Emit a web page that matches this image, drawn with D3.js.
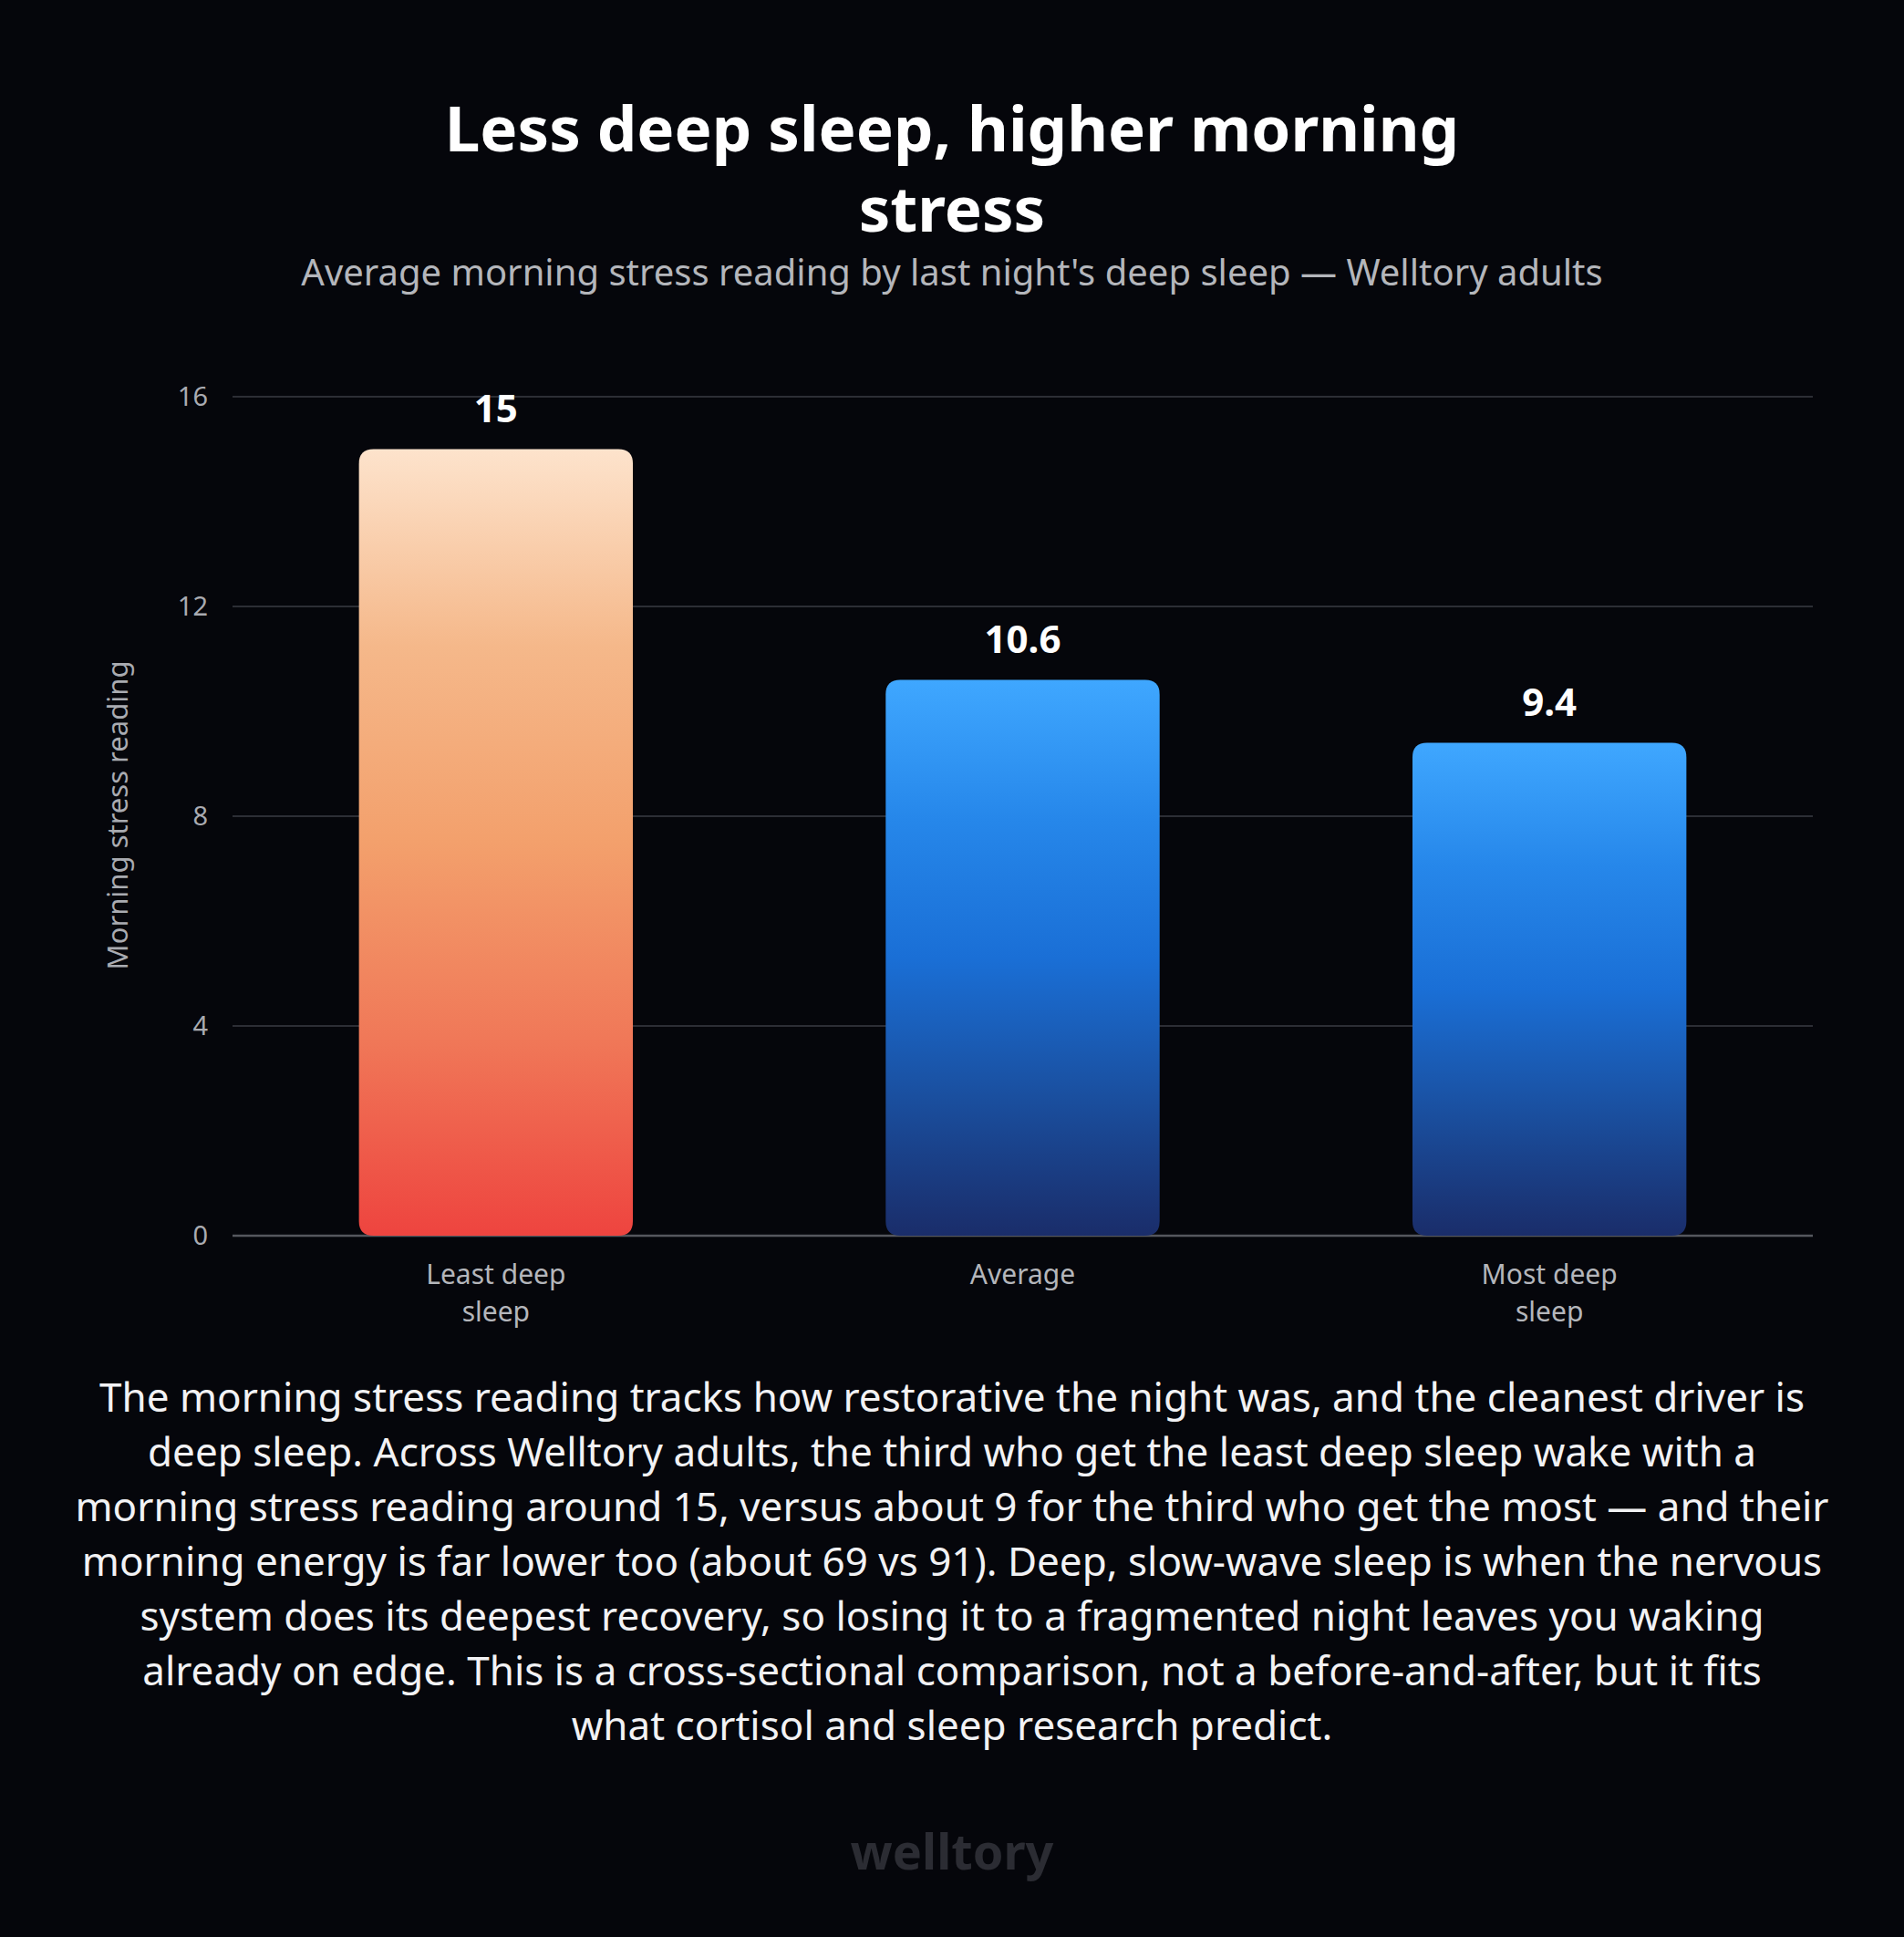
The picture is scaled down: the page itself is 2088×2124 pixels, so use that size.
<!DOCTYPE html><html><head><meta charset="utf-8"><script src="https://cdn.jsdelivr.net/npm/d3@7"></script>
<style>body{margin:0;background:#05060b}</style></head><body><svg id="c" width="2088" height="2124"></svg>
<script>
const categories=[["Least deep","sleep"],["Average"],["Most deep","sleep"]];
const values=[15,10.6,9.4];
const labels=["15","10.6","9.4"];
const ticks=[0,4,8,12,16];
const paragraph=["The morning stress reading tracks how restorative the night was, and the cleanest driver is","deep sleep. Across Welltory adults, the third who get the least deep sleep wake with a","morning stress reading around 15, versus about 9 for the third who get the most — and their","morning energy is far lower too (about 69 vs 91). Deep, slow-wave sleep is when the nervous","system does its deepest recovery, so losing it to a fragmented night leaves you waking","already on edge. This is a cross-sectional comparison, not a before-and-after, but it fits","what cortisol and sleep research predict."];
const svg=d3.select("#c"),F="'Noto Sans', sans-serif";
svg.append("rect").attr("width",2088).attr("height",2124).attr("fill","#05060b");
const defs=svg.append("defs");
function grad(id,stops){const g=defs.append("linearGradient").attr("id",id).attr("x1",0).attr("y1",0).attr("x2",0).attr("y2",1);stops.forEach((c,i)=>g.append("stop").attr("offset",i/(stops.length-1)).attr("stop-color",c));}
grad("gr",["#fde3cc","#f5b88a","#f3a06c","#f07858","#ee443f"]);
grad("gb",["#3fa7ff","#2687ea","#1a6fd6","#1a4f9f","#1a2d6a"]);
const x=d3.scaleBand().domain(d3.range(3)).range([255,1988]).paddingInner(0.48).paddingOuter(0.24);
const y=d3.scaleLinear().domain([0,16]).range([1355,435]);
const g=svg.append("g");
ticks.forEach(t=>{g.append("line").attr("x1",255).attr("x2",1988).attr("y1",y(t)).attr("y2",y(t)).attr("stroke",t?"#2c2e35":"#55575e").attr("stroke-width",t?2:2.5);
g.append("text").attr("x",228).attr("y",y(t)).attr("dy","0.35em").attr("text-anchor","end").attr("fill","#a9abb1").attr("font-family",F).attr("font-size",29).text(t);});
values.forEach((v,i)=>{const bx=x(i),bw=x.bandwidth(),top=y(v),r=16;
g.append("path").attr("d",`M${bx},${y(0)-r}V${top+r}Q${bx},${top} ${bx+r},${top}H${bx+bw-r}Q${bx+bw},${top} ${bx+bw},${top+r}V${y(0)-r}Q${bx+bw},${y(0)} ${bx+bw-r},${y(0)}H${bx+r}Q${bx},${y(0)} ${bx},${y(0)-r}Z`).attr("fill",i==0?"url(#gr)":"url(#gb)");
g.append("text").attr("x",bx+bw/2).attr("y",top-30).attr("text-anchor","middle").attr("fill","#fff").attr("font-family",F).attr("font-weight",700).attr("font-size",42).text(labels[i]);
categories[i].forEach((l,j)=>g.append("text").attr("x",bx+bw/2).attr("y",1408+j*41).attr("text-anchor","middle").attr("fill","#b4b6bb").attr("font-family",F).attr("font-size",30).text(l));});
svg.append("text").attr("transform","translate(140,894) rotate(-90)").attr("text-anchor","middle").attr("fill","#a9abb1").attr("font-family",F).attr("font-size",31).text("Morning stress reading");
svg.append("text").attr("x",1044).attr("y",166).attr("text-anchor","middle").attr("fill","#fff").attr("font-family",F).attr("font-weight",700).attr("font-size",69).text("Less deep sleep, higher morning");
svg.append("text").attr("x",1044).attr("y",254).attr("text-anchor","middle").attr("fill","#fff").attr("font-family",F).attr("font-weight",700).attr("font-size",69).text("stress");
svg.append("text").attr("x",1044).attr("y",313).attr("text-anchor","middle").attr("fill","#b4b6bb").attr("font-family",F).attr("font-size",40).text("Average morning stress reading by last night's deep sleep — Welltory adults");
paragraph.forEach((l,i)=>svg.append("text").attr("x",1044).attr("y",1548+i*60).attr("text-anchor","middle").attr("fill","#f2f2f4").attr("font-family",F).attr("font-size",44).text(l));
svg.append("text").attr("x",1044).attr("y",2050).attr("text-anchor","middle").attr("fill","#2b2c33").attr("font-family",F).attr("font-weight",700).attr("font-size",54).text("welltory");
</script></body></html>
